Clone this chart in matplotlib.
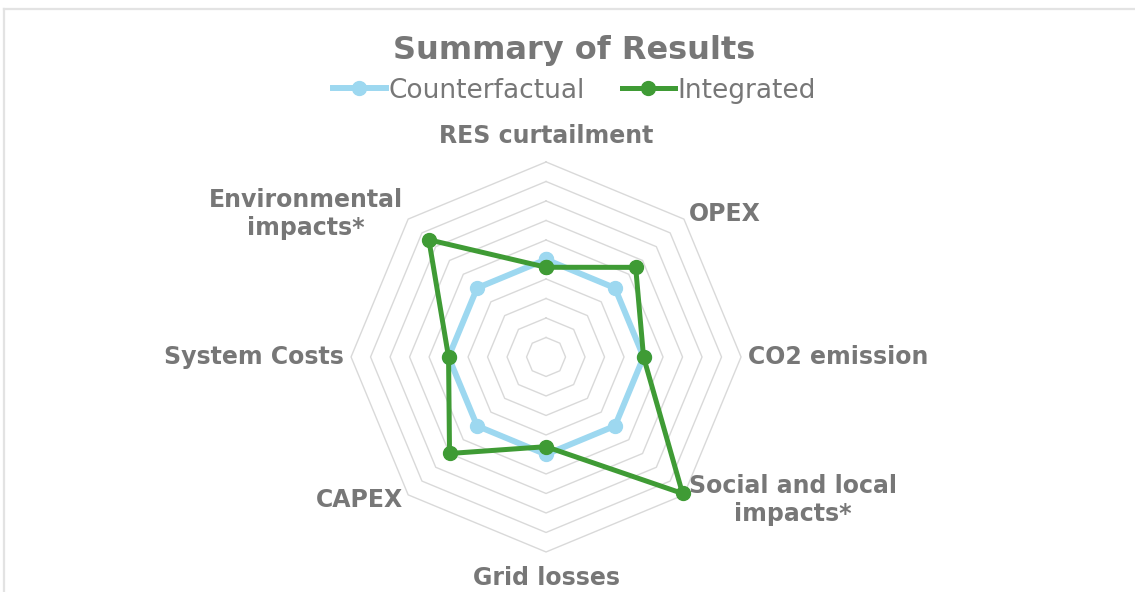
import numpy as np
import matplotlib.pyplot as plt
from matplotlib.lines import Line2D

# data (scale 0-10)
categories = ['RES curtailment', 'OPEX', 'CO2 emission', 'Social and local\nimpacts*',
              'Grid losses', 'CAPEX', 'System Costs', 'Environmental\nimpacts*']
counterfactual = [5, 5, 5, 5, 5, 5, 5, 5]
integrated = [4.6, 6.5, 5.0, 9.9, 4.6, 7.0, 5.0, 8.5]
rings = [1, 2, 3, 4, 5, 6, 7, 8, 9, 10]

grey = '#777777'
grid_col = '#d9d9d9'
blue = '#9dd8f0'
green = '#3f9b35'

n = len(categories)
theta = np.linspace(0, 2 * np.pi, n, endpoint=False)
theta_closed = np.append(theta, theta[0])

fig = plt.figure(figsize=(11.35, 5.92), dpi=100)
fig.patch.set_facecolor('white')

# chart border (top and left edges visible in the crop)
fig.add_artist(Line2D([4 / 1135, 4 / 1135], [0, 1 - 9 / 592], transform=fig.transFigure,
                      color='#e3e3e3', lw=1.6))
fig.add_artist(Line2D([4 / 1135, 1], [1 - 9 / 592, 1 - 9 / 592], transform=fig.transFigure,
                      color='#e3e3e3', lw=1.6))

ax = fig.add_axes([0.3093, 0.0676, 0.3436, 0.6588], projection='polar')
ax.set_theta_zero_location('N')
ax.set_theta_direction(-1)
ax.set_ylim(0, 10)
ax.grid(False)
ax.spines['polar'].set_visible(False)
ax.set_xticks([])
ax.set_yticks([])
ax.patch.set_alpha(0)

# octagonal gridlines
for r in rings:
    ax.plot(theta_closed, [r] * (n + 1), color=grid_col, lw=1.0, zorder=1, clip_on=False)

ax.plot(theta_closed, counterfactual + counterfactual[:1], color=blue, lw=4.3,
        marker='o', ms=10, zorder=3, label='Counterfactual', clip_on=False)
ax.plot(theta_closed, integrated + integrated[:1], color=green, lw=3.6,
        marker='o', ms=10, zorder=4, label='Integrated', clip_on=False)

# category labels
for t, lab in zip(theta, categories):
    s, c = np.sin(t), np.cos(t)
    if abs(s) < 0.1:
        ha = 'center'
        r = 10.7
    else:
        ha = 'left' if s > 0 else 'right'
        r = 10.35
    if abs(s) < 0.1:
        va = 'bottom' if c > 0 else 'top'
    else:
        va = 'center'
    ax.text(t, r, lab, ha=ha, va=va, multialignment='center', fontsize=17,
            fontweight='bold', color=grey, clip_on=False, linespacing=1.2)

fig.text(0.506, 0.915, 'Summary of Results', ha='center', va='center',
         fontsize=23, fontweight='bold', color=grey)

handles, labels = ax.get_legend_handles_labels()
fig.legend(handles, labels, loc='center', bbox_to_anchor=(0.506, 0.847), ncol=2,
           frameon=False, fontsize=19, labelcolor=grey, handlelength=2.0,
           handletextpad=0.1, columnspacing=1.4, borderpad=0.2)

fig.savefig('out.png', dpi=100, facecolor='white')
